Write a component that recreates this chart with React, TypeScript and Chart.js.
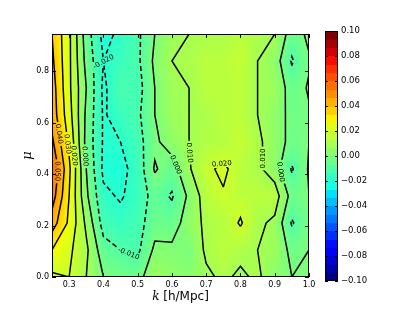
import React, { useEffect, useRef } from "react";
import { Chart, registerables } from "chart.js";
Chart.register(...registerables);

// ---- data ----
const kValues = [0.25, 0.3, 0.35, 0.4, 0.45, 0.5, 0.55, 0.6, 0.65, 0.7, 0.75, 0.8, 0.85, 0.9, 0.95, 1.0];
const muValues = [0.0, 0.105, 0.21, 0.315, 0.42, 0.525, 0.63, 0.735, 0.84, 0.945];

const rowMu0 = [0.018, 0.020, 0.010, 0.000, -0.002, -0.004, 0.008, 0.005, 0.003, 0.008, 0.012, 0.008, 0.012, 0.003, 0.000, 0.002];
const rowMu1 = [0.030, 0.022, 0.012, -0.006, -0.010, -0.012, 0.002, 0.002, 0.000, 0.012, 0.015, 0.013, 0.010, 0.008, -0.003, 0.000];
const rowMu2 = [0.045, 0.028, 0.008, -0.014, -0.017, -0.014, -0.004, -0.005, 0.005, 0.012, 0.014, 0.021, 0.012, 0.008, -0.011, -0.002];
const rowMu3 = [0.055, 0.030, 0.002, -0.018, -0.021, -0.016, -0.006, -0.011, 0.002, 0.015, 0.019, 0.016, 0.015, 0.015, -0.004, 0.000];
const rowMu4 = [0.060, 0.032, 0.000, -0.022, -0.023, -0.016, 0.001, -0.005, 0.009, 0.018, 0.022, 0.015, 0.012, 0.005, -0.011, 0.001];
const rowMu5 = [0.052, 0.028, -0.003, -0.021, -0.020, -0.014, -0.002, 0.005, 0.010, 0.013, 0.014, 0.018, 0.012, 0.005, -0.003, 0.000];
const rowMu6 = [0.046, 0.024, -0.002, -0.021, -0.016, -0.012, 0.000, 0.008, 0.010, 0.012, 0.015, 0.016, 0.010, 0.005, -0.003, -0.001];
const rowMu7 = [0.045, 0.022, 0.000, -0.022, -0.012, -0.014, 0.000, 0.009, 0.010, 0.015, 0.015, 0.016, 0.010, 0.008, -0.005, 0.001];
const rowMu8 = [0.042, 0.022, -0.003, -0.020, -0.016, -0.012, 0.002, 0.010, 0.012, 0.015, 0.015, 0.018, 0.010, 0.005, -0.011, -0.001];
const rowMu9 = [0.040, 0.022, -0.005, -0.023, -0.018, -0.012, 0.000, 0.008, 0.010, 0.012, 0.012, 0.015, 0.012, 0.010, -0.005, 0.002];

const deltaGrid = [rowMu0, rowMu1, rowMu2, rowMu3, rowMu4, rowMu5, rowMu6, rowMu7, rowMu8, rowMu9];

const contourLevels = [-0.03, -0.02, -0.01, 0.0, 0.01, 0.02, 0.03, 0.04, 0.05];
const xTicks = [0.3, 0.4, 0.5, 0.6, 0.7, 0.8, 0.9, 1.0];
const yTicks = [0.0, 0.2, 0.4, 0.6, 0.8];
const cbarTicks = [0.1, 0.08, 0.06, 0.04, 0.02, 0.0, -0.02, -0.04, -0.06, -0.08, -0.1];
const V_MIN = -0.1;
const V_MAX = 0.1;
const K_MIN = 0.25, K_MAX = 1.0, MU_MIN = 0.0, MU_MAX = 0.945;

// ---- colormap (jet) ----
function seg(pts: number[][], t: number) {
  for (let i = 0; i < pts.length - 1; i++) {
    const [x0, y0] = pts[i], [x1, y1] = pts[i + 1];
    if (t >= x0 && t <= x1) return y0 + ((t - x0) / (x1 - x0 || 1)) * (y1 - y0);
  }
  return pts[pts.length - 1][1];
}
const JR = [[0, 0], [0.35, 0], [0.66, 1], [0.89, 1], [1, 0.5]];
const JG = [[0, 0], [0.125, 0], [0.375, 1], [0.64, 1], [0.91, 0], [1, 0]];
const JB = [[0, 0.5], [0.11, 1], [0.34, 1], [0.65, 0], [1, 0]];
function jet(t: number): [number, number, number] {
  t = Math.max(0, Math.min(1, t));
  return [Math.round(seg(JR, t) * 255), Math.round(seg(JG, t) * 255), Math.round(seg(JB, t) * 255)];
}

function findIdx(arr: number[], v: number) {
  for (let i = 0; i < arr.length - 2; i++) if (v < arr[i + 1]) return i;
  return arr.length - 2;
}
function sample(k: number, mu: number) {
  const i = findIdx(kValues, k), j = findIdx(muValues, mu);
  const tx = Math.max(0, Math.min(1, (k - kValues[i]) / (kValues[i + 1] - kValues[i])));
  const ty = Math.max(0, Math.min(1, (mu - muValues[j]) / (muValues[j + 1] - muValues[j])));
  const a = deltaGrid[j][i], b = deltaGrid[j][i + 1], c = deltaGrid[j + 1][i], d = deltaGrid[j + 1][i + 1];
  return (a * (1 - tx) + b * tx) * (1 - ty) + (c * (1 - tx) + d * tx) * ty;
}

// ---- marching squares ----
type Pt = [number, number];
function contourLines(level: number): Pt[][] {
  const segs: { a: string; pa: Pt; b: string; pb: Pt }[] = [];
  const interp = (p1: Pt, p2: Pt, v1: number, v2: number): Pt => {
    const t = (level - v1) / (v2 - v1);
    return [p1[0] + t * (p2[0] - p1[0]), p1[1] + t * (p2[1] - p1[1])];
  };
  for (let j = 0; j < muValues.length - 1; j++) {
    for (let i = 0; i < kValues.length - 1; i++) {
      const v00 = deltaGrid[j][i], v10 = deltaGrid[j][i + 1], v01 = deltaGrid[j + 1][i], v11 = deltaGrid[j + 1][i + 1];
      const bl: Pt = [kValues[i], muValues[j]], br: Pt = [kValues[i + 1], muValues[j]];
      const tr: Pt = [kValues[i + 1], muValues[j + 1]], tl: Pt = [kValues[i], muValues[j + 1]];
      const idx = (v00 >= level ? 1 : 0) | (v10 >= level ? 2 : 0) | (v11 >= level ? 4 : 0) | (v01 >= level ? 8 : 0);
      if (idx === 0 || idx === 15) continue;
      const edge = (e: string): [string, Pt] => {
        if (e === "b") return [`h${j}_${i}`, interp(bl, br, v00, v10)];
        if (e === "r") return [`v${j}_${i + 1}`, interp(br, tr, v10, v11)];
        if (e === "t") return [`h${j + 1}_${i}`, interp(tl, tr, v01, v11)];
        return [`v${j}_${i}`, interp(bl, tl, v00, v01)];
      };
      const center = (v00 + v10 + v01 + v11) / 4;
      let pairs: string[][] = [];
      switch (idx) {
        case 1: case 14: pairs = [["l", "b"]]; break;
        case 2: case 13: pairs = [["b", "r"]]; break;
        case 3: case 12: pairs = [["l", "r"]]; break;
        case 4: case 11: pairs = [["r", "t"]]; break;
        case 6: case 9: pairs = [["b", "t"]]; break;
        case 7: case 8: pairs = [["l", "t"]]; break;
        case 5: pairs = center >= level ? [["b", "r"], ["l", "t"]] : [["l", "b"], ["r", "t"]]; break;
        case 10: pairs = center >= level ? [["l", "b"], ["r", "t"]] : [["b", "r"], ["l", "t"]]; break;
      }
      for (const [e1, e2] of pairs) {
        const [a, pa] = edge(e1), [b, pb] = edge(e2);
        segs.push({ a, pa, b, pb });
      }
    }
  }
  const map: Record<string, number[]> = {};
  segs.forEach((s, n) => {
    (map[s.a] = map[s.a] || []).push(n);
    (map[s.b] = map[s.b] || []).push(n);
  });
  const used = new Array(segs.length).fill(false);
  const lines: Pt[][] = [];
  for (let n = 0; n < segs.length; n++) {
    if (used[n]) continue;
    used[n] = true;
    const chain: Pt[] = [segs[n].pa, segs[n].pb];
    let key = segs[n].b;
    for (;;) {
      const t = (map[key] || []).find((m) => !used[m]);
      if (t === undefined) break;
      used[t] = true;
      const s = segs[t];
      if (s.a === key) { chain.push(s.pb); key = s.b; } else { chain.push(s.pa); key = s.a; }
    }
    key = segs[n].a;
    for (;;) {
      const t = (map[key] || []).find((m) => !used[m]);
      if (t === undefined) break;
      used[t] = true;
      const s = segs[t];
      if (s.a === key) { chain.unshift(s.pb); key = s.b; } else { chain.unshift(s.pa); key = s.a; }
    }
    lines.push(chain);
  }
  return lines;
}

const SANS = '"DejaVu Sans", sans-serif';
const SERIF = '"DejaVu Serif", serif';

const contourPlugin = {
  id: "contourHeat",
  beforeDatasetsDraw(chart: any) {
    const { ctx, chartArea: a, scales } = chart;
    const xs = scales.x, ys = scales.y;
    const w = Math.round(a.right - a.left), h = Math.round(a.bottom - a.top);
    // heatmap
    const off = document.createElement("canvas");
    off.width = w; off.height = h;
    const octx = off.getContext("2d")!;
    const img = octx.createImageData(w, h);
    for (let py = 0; py < h; py++) {
      const mu = ys.getValueForPixel(a.top + py + 0.5);
      for (let px = 0; px < w; px++) {
        const k = xs.getValueForPixel(a.left + px + 0.5);
        const v = sample(k, mu);
        const [r, g, b] = jet((v - V_MIN) / (V_MAX - V_MIN));
        const o = (py * w + px) * 4;
        img.data[o] = r; img.data[o + 1] = g; img.data[o + 2] = b; img.data[o + 3] = 255;
      }
    }
    octx.putImageData(img, 0, 0);
    ctx.drawImage(off, a.left, a.top);

    // contours
    ctx.save();
    ctx.font = `7px ${SANS}`;
    const all: { level: number; pts: Pt[] }[] = [];
    for (const L of contourLevels) {
      for (const line of contourLines(L)) {
        all.push({ level: L, pts: line.map((p) => [xs.getPixelForValue(p[0]), ys.getPixelForValue(p[1])] as Pt) });
      }
    }
    const labels: { x: number; y: number; ang: number; text: string; w: number }[] = [];
    for (const c of all) {
      const pts = c.pts;
      const cum = [0];
      for (let i = 1; i < pts.length; i++) cum.push(cum[i - 1] + Math.hypot(pts[i][0] - pts[i - 1][0], pts[i][1] - pts[i - 1][1]));
      const total = cum[cum.length - 1];
      if (total < 45) continue;
      const at = (s: number): Pt => {
        for (let i = 1; i < pts.length; i++) {
          if (cum[i] >= s) {
            const t = (s - cum[i - 1]) / (cum[i] - cum[i - 1] || 1);
            return [pts[i - 1][0] + t * (pts[i][0] - pts[i - 1][0]), pts[i - 1][1] + t * (pts[i][1] - pts[i - 1][1])];
          }
        }
        return pts[pts.length - 1];
      };
      const mid = at(total / 2);
      if (mid[0] < a.left + 4 || mid[0] > a.right - 4 || mid[1] < a.top + 6 || mid[1] > a.bottom - 6) continue;
      if (labels.some((l) => Math.hypot(l.x - mid[0], l.y - mid[1]) < 10)) continue;
      const p1 = at(total / 2 - 9), p2 = at(total / 2 + 9);
      let ang = Math.atan2(p2[1] - p1[1], p2[0] - p1[0]);
      if (ang > Math.PI / 2) ang -= Math.PI;
      if (ang < -Math.PI / 2) ang += Math.PI;
      const text = (Math.abs(c.level) < 1e-9 ? 0 : c.level).toFixed(3);
      labels.push({ x: mid[0], y: mid[1], ang, text, w: ctx.measureText(text).width });
    }
    const clip = new Path2D();
    clip.rect(a.left, a.top, a.right - a.left, a.bottom - a.top);
    for (const l of labels) {
      const hw = l.w / 2 + 2, hh = 4;
      const cs = Math.cos(l.ang), sn = Math.sin(l.ang);
      const corners = [[-hw, -hh], [hw, -hh], [hw, hh], [-hw, hh]].map(([dx, dy]) => [l.x + dx * cs - dy * sn, l.y + dx * sn + dy * cs]);
      clip.moveTo(corners[0][0], corners[0][1]);
      for (let i = 1; i < 4; i++) clip.lineTo(corners[i][0], corners[i][1]);
      clip.closePath();
    }
    ctx.save();
    ctx.clip(clip, "evenodd");
    ctx.strokeStyle = "#000";
    ctx.lineWidth = 1.5;
    ctx.lineJoin = "miter";
    for (const c of all) {
      ctx.setLineDash(c.level < -1e-9 ? [5, 3] : []);
      ctx.beginPath();
      c.pts.forEach((p, i) => (i ? ctx.lineTo(p[0], p[1]) : ctx.moveTo(p[0], p[1])));
      ctx.stroke();
    }
    ctx.restore();
    ctx.fillStyle = "#000";
    ctx.textAlign = "center";
    ctx.textBaseline = "middle";
    for (const l of labels) {
      ctx.save();
      ctx.translate(l.x, l.y);
      ctx.rotate(l.ang);
      ctx.fillText(l.text, 0, 0.5);
      ctx.restore();
    }
    ctx.restore();
  },
  afterDraw(chart: any) {
    const { ctx, chartArea: a, scales } = chart;
    const xs = scales.x, ys = scales.y;
    ctx.save();
    // frame
    ctx.strokeStyle = "#000";
    ctx.lineWidth = 1;
    ctx.strokeRect(a.left + 0.5, a.top + 0.5, a.right - a.left - 1, a.bottom - a.top - 1);
    // ticks
    ctx.beginPath();
    for (const t of xTicks) {
      const px = Math.round(xs.getPixelForValue(t)) + 0.5;
      ctx.moveTo(px, a.bottom); ctx.lineTo(px, a.bottom - 4);
      ctx.moveTo(px, a.top); ctx.lineTo(px, a.top + 4);
    }
    for (const t of yTicks) {
      const py = Math.round(ys.getPixelForValue(t)) + 0.5;
      ctx.moveTo(a.left, py); ctx.lineTo(a.left + 4, py);
      ctx.moveTo(a.right, py); ctx.lineTo(a.right - 4, py);
    }
    ctx.stroke();
    ctx.fillStyle = "#000";
    ctx.font = `8px ${SANS}`;
    ctx.textAlign = "center";
    ctx.textBaseline = "top";
    for (const t of xTicks) ctx.fillText(t.toFixed(1), xs.getPixelForValue(t), a.bottom + 4);
    ctx.textAlign = "right";
    ctx.textBaseline = "middle";
    for (const t of yTicks) ctx.fillText(t.toFixed(1), a.left - 3, ys.getPixelForValue(t));

    // axis titles
    ctx.font = `italic 12px ${SERIF}`;
    const kW = ctx.measureText("k").width;
    ctx.font = `12px ${SANS}`;
    const restW = ctx.measureText(" [h/Mpc]").width;
    const cx = (a.left + a.right) / 2;
    const startX = cx - (kW + restW) / 2;
    ctx.textAlign = "left";
    ctx.textBaseline = "middle";
    ctx.font = `italic 12px ${SERIF}`;
    ctx.fillText("k", startX, 297);
    ctx.font = `12px ${SANS}`;
    ctx.fillText(" [h/Mpc]", startX + kW, 297);
    ctx.save();
    ctx.translate(28, (a.top + a.bottom) / 2);
    ctx.rotate(-Math.PI / 2);
    ctx.textAlign = "center";
    ctx.font = `italic 13px ${SERIF}`;
    ctx.fillText("μ", 0, 0);
    ctx.restore();

    // colorbar
    const cbL = 325, cbR = 338, cbT = 31, cbB = 281;
    const N = 30;
    const cbPix = (v: number) => cbB - ((v - V_MIN) / (V_MAX - V_MIN)) * (cbB - cbT);
    for (let i = 0; i < N; i++) {
      const v0 = V_MIN + (i / N) * (V_MAX - V_MIN), v1 = V_MIN + ((i + 1) / N) * (V_MAX - V_MIN);
      const [r, g, b] = jet(i / (N - 1));
      ctx.fillStyle = `rgb(${r},${g},${b})`;
      const y0 = cbPix(v1), y1 = cbPix(v0);
      ctx.fillRect(cbL, Math.floor(y0), cbR - cbL, Math.ceil(y1) - Math.floor(y0));
    }
    ctx.strokeStyle = "#000";
    ctx.lineWidth = 1;
    ctx.strokeRect(cbL + 0.5, cbT + 0.5, cbR - cbL - 1, cbB - cbT - 1);
    ctx.beginPath();
    for (const t of cbarTicks) {
      const py = Math.round(cbPix(t)) + 0.5;
      ctx.moveTo(cbL, py); ctx.lineTo(cbL + 3, py);
      ctx.moveTo(cbR, py); ctx.lineTo(cbR - 3, py);
    }
    ctx.stroke();
    ctx.fillStyle = "#000";
    ctx.font = `8.5px ${SANS}`;
    ctx.textAlign = "left";
    ctx.textBaseline = "middle";
    for (const t of cbarTicks) {
      const s = (Math.abs(t) < 1e-9 ? 0 : t).toFixed(2).replace("-", "\u2212");
      ctx.fillText(s, cbR + 3, cbPix(t));
    }
    ctx.restore();
  },
};

export default function App() {
  const ref = useRef<HTMLCanvasElement>(null);
  useEffect(() => {
    document.body.style.margin = "0";
    const chart = new Chart(ref.current!, {
      type: "scatter",
      data: { datasets: [{ data: [], pointRadius: 0 }] },
      options: {
        animation: false,
        responsive: false,
        devicePixelRatio: 1,
        layout: { padding: { left: 52, top: 34, right: 106, bottom: 35 } },
        scales: {
          x: { type: "linear", min: K_MIN, max: K_MAX, display: false },
          y: { type: "linear", min: MU_MIN, max: MU_MAX, display: false },
        },
        plugins: { legend: { display: false }, tooltip: { enabled: false } },
      },
      plugins: [contourPlugin],
    } as any);
    return () => chart.destroy();
  }, []);
  return (
    <div style={{ width: 415, height: 312, background: "#fff" }}>
      <canvas ref={ref} width={415} height={312} style={{ display: "block" }} />
    </div>
  );
}
